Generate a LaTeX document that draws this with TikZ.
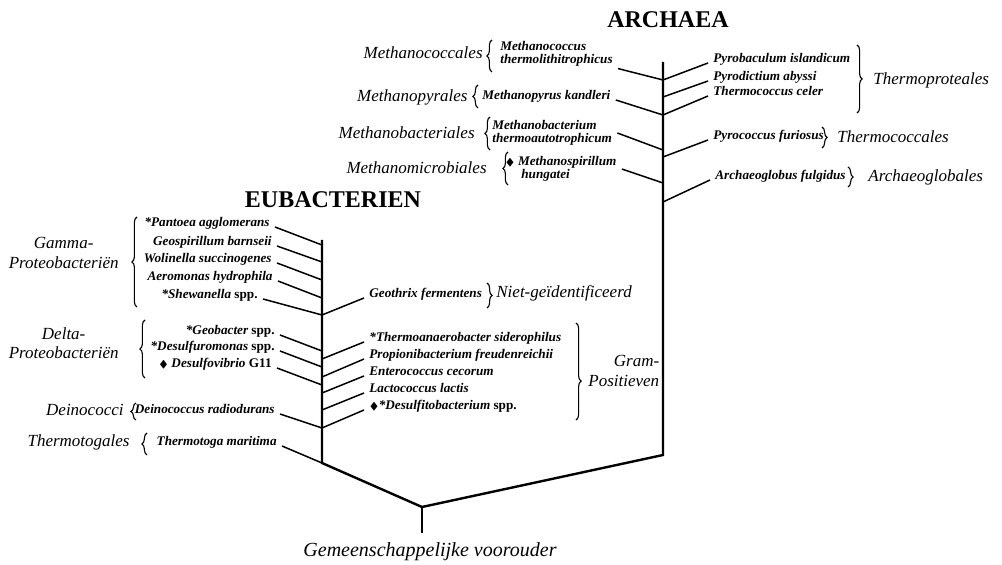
\documentclass[tikz,border=0pt]{standalone}
\usepackage{amssymb}
\usepackage{fontspec}
\setmainfont{Liberation Serif}
\usetikzlibrary{decorations.pathreplacing}
\newcommand\ruit{{\tiny$\blacklozenge$}}

\begin{document}
\begin{tikzpicture}[x=0.5pt,y=-0.5pt,
		soort/.style={font=\fontsize{6.6}{6.2}\selectfont\bfseries\itshape, inner xsep=2.5pt, inner ysep=1pt},
		orde/.style={font=\fontsize{8.5}{9.8}\selectfont\itshape, inner sep=1pt},
		rijk/.style={font=\fontsize{12}{14}\selectfont\bfseries},
		tak/.style={line width=0.75pt},
		stam/.style={line width=1.2pt},
		accolade/.style={decorate, decoration={brace, amplitude=2.6pt}, line width=0.55pt}]
		\useasboundingbox (0,0) rectangle (1002,565);
		%\draw [help lines, step=50] (0,0) grid (1002,565);
		
		% Stammen
		\coordinate (a0) at (663,62);
		\coordinate (a1) at (663,80);
		\coordinate (a2) at (663,97);
		\coordinate (a3) at (663,115);
		\coordinate (a4) at (663,150);
		\coordinate (a5) at (663,157);
		\coordinate (a6) at (663,183);
		\coordinate (a7) at (663,202);
		\coordinate (aeind) at (663,455);
		\coordinate (e0) at (322,240);
		\coordinate (e1) at (322,245);
		\coordinate (e2) at (322,262);
		\coordinate (e3) at (322,280);
		\coordinate (e4) at (322,298);
		\coordinate (e5) at (322,315);
		\coordinate (e6) at (322,351);
		\coordinate (e7) at (322,359);
		\coordinate (e8) at (322,367);
		\coordinate (e9) at (322,377);
		\coordinate (e10) at (322,385);
		\coordinate (e11) at (322,393);
		\coordinate (e12) at (322,410);
		\coordinate (e13) at (322,428);
		\coordinate (eind) at (322,463);
		\coordinate (wortel) at (422,507);
		\coordinate (voet) at (422,533);
		\draw [stam] (e0) -- (eind) -- (wortel) -- (aeind) -- (a0);
		\draw [stam] (wortel) -- (voet);
		\node [font=\fontsize{10}{12}\selectfont\itshape] (voorouder) at (430,552) {Gemeenschappelijke voorouder};
		
		% Titels
		\node [rijk] (archaea) at (668,20) {ARCHAEA};
		\node [rijk] (eubac) at (333,200) {EUBACTERIEN};
		
		% Archaea links
		\node [soort, anchor=west, align=left] (mcoc) at (495,54) {Methanococcus\\thermolithitrophicus};
		\node [soort, anchor=base west] (mpyr) at (477,100) {Methanopyrus kandleri};
		\node [soort, anchor=west, align=left] (mbac) at (487,133) {Methanobacterium\\thermoautotrophicum};
		\node [soort, anchor=west, align=left] (mspi) at (500,169) {\ruit\ Methanospirillum\\\hspace*{8pt}hungatei};
		\draw [tak] (mcoc.south east) -- (a1);
		\draw [tak] (mpyr.base east) -- (a3);
		\draw [tak] (mbac.east) -- (a4);
		\draw [tak] (mspi.east) -- (a6);
		\node [orde, anchor=east] (mcocales) at (485,53) {Methanococcales};
		\node [orde, anchor=east] (mpyrales) at (470,97) {Methanopyrales};
		\node [orde, anchor=east] (mbacales) at (477,133) {Methanobacteriales};
		\node [orde, anchor=east] (mmicales) at (489,168) {Methanomicrobiales};
		\draw [accolade] (492,72) -- (492,40);
		\draw [accolade] (478,108) -- (478,85);
		\draw [accolade] (490,150) -- (490,117);
		\draw [accolade] (508,185) -- (508,152);
		
		% Archaea rechts
		\node [soort, anchor=base west] (pyrb) at (708,63) {Pyrobaculum islandicum};
		\node [soort, anchor=base west] (pyrd) at (708,81) {Pyrodictium abyssi};
		\node [soort, anchor=base west] (tcel) at (708,96) {Thermococcus celer};
		\node [soort, anchor=base west] (pfur) at (708,140) {Pyrococcus furiosus};
		\node [soort, anchor=base west] (aful) at (710,180) {Archaeoglobus fulgidus};
		\draw [tak] (a1) -- (pyrb.base west);
		\draw [tak] (a2) -- (pyrd.base west);
		\draw [tak] (a3) -- (tcel.base west);
		\draw [tak] (a5) -- (pfur.base west);
		\draw [tak] (a7) -- (aful.base west);
		\draw [accolade] (857,45) -- (857,113);
		\draw [accolade] (822,127) -- (822,148);
		\draw [accolade] (848,167) -- (848,187);
		\node [orde, anchor=west] (tprot) at (871,80) {Thermoproteales};
		\node [orde, anchor=west] (tcoc) at (835,137) {Thermococcales};
		\node [orde, anchor=west] (aglob) at (866,177) {Archaeoglobales};
		
		% Eubacterien links
		\node [soort, anchor=base east] (pant) at (275,227) {*Pantoea agglomerans};
		\node [soort, anchor=base east] (geos) at (277,246) {Geospirillum barnseii};
		\node [soort, anchor=base east] (woli) at (277,263) {Wolinella succinogenes};
		\node [soort, anchor=base east] (aero) at (278,281) {Aeromonas hydrophila};
		\node [soort, anchor=base east] (shew) at (263,299) {*Shewanella {\upshape spp.}};
		\node [soort, anchor=base east] (geob) at (280,335) {*Geobacter {\upshape spp.}};
		\node [soort, anchor=base east] (dsfm) at (280,351) {*Desulfuromonas {\upshape spp.}};
		\node [soort, anchor=base east] (dsfv) at (277,368) {\ruit\ Desulfovibrio {\upshape G11}};
		\node [soort, anchor=base east] (dein) at (280,414) {Deinococcus radiodurans};
		\node [soort, anchor=base east] (ttog) at (282,446) {Thermotoga maritima};
		\draw [tak] (pant.base east) -- (e1);
		\draw [tak] (geos.base east) -- (e2);
		\draw [tak] (woli.base east) -- (e3);
		\draw [tak] (aero.base east) -- (e4);
		\draw [tak] (shew.base east) -- (e5);
		\draw [tak] (geob.base east) -- (e6);
		\draw [tak] (dsfm.base east) -- (e8);
		\draw [tak] (dsfv.base east) -- (e10);
		\draw [tak] (dein.base east) -- (e13);
		\draw [tak] (ttog.base east) -- (eind);
		\draw [accolade] (137,307) -- (137,217);
		\draw [accolade] (145,378) -- (145,320);
		\draw [accolade] (136,420) -- (136,403);
		\draw [accolade] (147,455) -- (147,433);
		\node [orde, anchor=east, align=center] (gamma) at (121,253) {Gamma-\\Proteobacteriën};
		\node [orde, anchor=east, align=center] (delta) at (121,343) {Delta-\\Proteobacteriën};
		\node [orde, anchor=east] (deino) at (126,410) {Deinococci};
		\node [orde, anchor=east] (ttogales) at (132,442) {Thermotogales};
		
		% Eubacterien rechts
		\node [soort, anchor=base west] (geot) at (364,298) {Geothrix fermentens};
		\node [soort, anchor=base west] (tsid) at (364,342) {*Thermoanaerobacter siderophilus};
		\node [soort, anchor=base west] (pfre) at (364,359) {Propionibacterium freudenreichii};
		\node [soort, anchor=base west] (ecec) at (364,376) {Enterococcus cecorum};
		\node [soort, anchor=base west] (llac) at (364,393) {Lactococcus lactis};
		\node [soort, anchor=base west] (dsft) at (364,410) {\ruit*Desulfitobacterium {\upshape spp.}};
		\draw [tak] (e5) -- (geot.base west);
		\draw [tak] (e7) -- (tsid.base west);
		\draw [tak] (e9) -- (pfre.base west);
		\draw [tak] (e11) -- (ecec.base west);
		\draw [tak] (e12) -- (llac.base west);
		\draw [tak] (e13) -- (dsft.base west);
		\draw [accolade] (487,283) -- (487,308);
		\draw [accolade, decoration={aspect=0.6}] (576,323) -- (576,420);
		\node [orde, anchor=west] (niet) at (494,293) {Niet-geïdentificeerd};
		\node [orde, anchor=west, align=right] (gram) at (586,371) {Gram-\\Positieven};
	\end{tikzpicture}
\end{document}
